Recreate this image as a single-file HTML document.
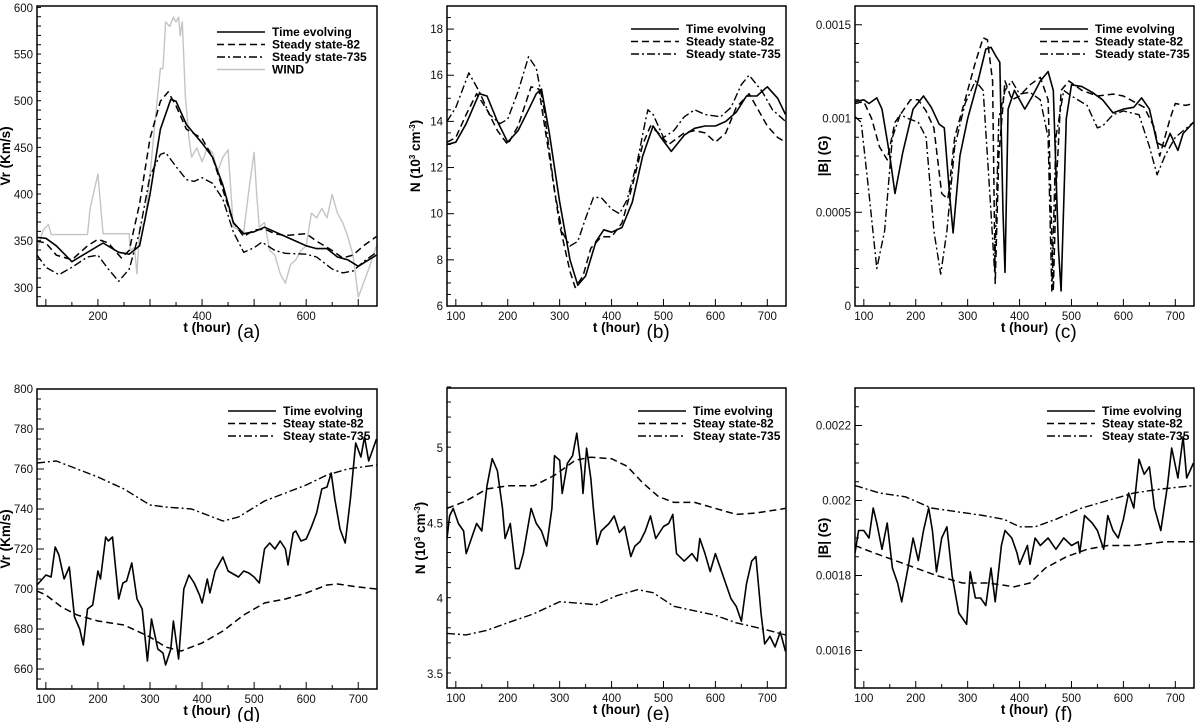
<!DOCTYPE html>
<html><head><meta charset="utf-8"><style>
body{margin:0;background:#fff;}
svg{display:block;font-family:"Liberation Sans",Arial,sans-serif;}
</style></head><body>
<svg id="fig" width="1200" height="722" viewBox="0 0 1200 722"></svg>
<script>
// ---- data (t in hours) ----
// Panel a: Vr
const aTimeT=[83,100,120,150,180,210,240,260,280,300,320,340,350,370,400,420,440,460,480,500,520,540,560,580,600,620,640,660,680,700,720,735];
const aTimeV=[354,353,345,328,338,348,338,336,345,400,470,502,500,475,455,440,410,370,358,360,365,360,355,350,345,342,342,333,330,323,330,335];
const a82T=[83,100,120,150,180,200,220,245,260,280,300,320,335,350,370,400,420,440,460,480,500,520,540,560,580,600,620,650,670,690,710,735];
const a82V=[350,348,335,330,345,352,348,332,340,390,460,500,510,495,470,460,440,405,370,355,362,363,358,356,357,358,350,340,332,335,345,355];
const a735T=[83,100,125,150,180,200,220,240,260,280,300,320,330,350,370,385,400,420,440,460,480,500,515,540,560,600,620,650,670,690,710,735];
const a735V=[335,322,314,322,333,335,320,307,320,360,420,443,445,430,416,414,418,412,395,360,338,343,349,340,337,336,333,320,316,318,328,338];
const aWindT=[83,95,105,110,130,180,185,200,205,210,260,262,270,275,280,290,300,310,320,325,330,338,345,350,355,358,362,368,375,380,390,400,410,420,430,440,450,460,480,490,500,505,510,520,530,540,550,560,570,580,590,600,610,620,630,640,650,660,670,680,690,700,710,720,735];
const aWindV=[340,362,368,357,357,357,385,422,390,358,358,340,343,315,365,370,420,480,535,535,585,580,590,585,590,570,585,505,460,440,450,435,450,445,425,440,448,365,360,405,445,400,365,370,340,335,315,305,325,330,340,345,380,375,385,375,400,380,370,355,335,290,305,320,345];
// Panel b: N
const bTimeT=[83,100,120,145,160,180,200,220,240,255,265,280,300,320,335,350,370,385,400,420,440,460,480,495,515,540,560,580,600,620,640,660,680,700,720,735];
const bTimeV=[13.0,13.1,13.9,15.2,15.1,14.0,13.1,13.6,14.5,15.2,15.4,13.5,10.5,8.0,6.9,7.3,8.8,9.3,9.2,9.4,10.5,12.5,13.8,13.3,12.7,13.4,13.7,13.8,13.8,14.0,14.4,15.1,15.1,15.5,15.0,14.3];
const b82T=[83,100,120,140,160,180,200,220,245,260,280,300,320,330,345,360,380,400,420,440,460,475,490,510,540,560,580,600,620,640,665,680,700,720,735];
const b82V=[13.1,13.3,14.3,15.2,14.5,13.6,13.0,13.8,15.5,15.4,12.5,9.5,7.5,6.8,7.3,8.5,9.0,9.0,9.6,11.2,13.0,13.8,13.5,13.0,13.5,13.6,13.5,13.1,13.5,14.6,15.2,14.6,13.8,13.3,13.1];
const b735T=[83,100,125,145,165,185,200,220,240,255,270,290,305,320,335,350,365,380,400,415,430,450,465,470,480,500,520,540,560,580,610,630,650,665,690,710,735];
const b735V=[14.0,14.6,16.1,15.3,14.3,13.9,14.1,15.3,16.8,16.3,14.5,11.0,9.2,8.6,8.8,9.8,10.7,10.7,10.2,10.0,10.6,12.3,14.0,14.5,14.3,13.3,13.6,14.2,14.5,14.3,14.2,14.6,15.6,16.0,15.3,14.5,14.0];
// Panel c: |B|
const cTimeT=[83,100,110,125,135,150,160,175,195,215,230,245,255,265,272,285,300,320,335,345,355,362,368,372,378,390,400,410,425,440,455,465,475,480,490,500,520,540,560,580,600,620,635,650,665,680,690,705,715,735];
const cTimeV=[0.00109,0.00110,0.00108,0.00111,0.00105,0.00080,0.00060,0.00082,0.00105,0.00112,0.00106,0.00097,0.00095,0.00060,0.00039,0.00080,0.00100,0.00120,0.00137,0.00138,0.00133,0.00130,0.00050,0.00018,0.00105,0.00115,0.00110,0.00105,0.00112,0.00120,0.00125,0.00115,0.00030,0.00008,0.00100,0.00118,0.00117,0.00114,0.00110,0.00103,0.00105,0.00106,0.00111,0.00105,0.00087,0.00085,0.00092,0.00083,0.00092,0.00098];
const c82T=[83,100,115,130,145,160,175,190,205,220,235,250,262,275,295,315,330,338,348,353,360,372,385,400,420,440,455,465,470,480,495,520,550,580,600,640,660,670,690,700,720,735];
const c82V=[0.00108,0.00109,0.00100,0.00085,0.00078,0.00098,0.00104,0.00110,0.00110,0.00104,0.00095,0.00060,0.00057,0.00090,0.00110,0.00130,0.00143,0.00142,0.00120,0.00012,0.00080,0.00120,0.00110,0.00112,0.00118,0.00122,0.00110,0.00008,0.00060,0.00115,0.00120,0.00115,0.00112,0.00113,0.00112,0.00106,0.00095,0.00080,0.00100,0.00108,0.00107,0.00108];
const c735T=[83,95,110,125,140,155,170,185,205,220,235,248,260,275,295,315,330,345,352,360,372,385,400,420,440,455,462,470,485,500,530,550,560,580,600,630,650,665,680,700,735];
const c735V=[0.00101,0.00098,0.00060,0.00020,0.00040,0.00090,0.00102,0.00100,0.00098,0.00090,0.00040,0.00017,0.00040,0.00085,0.00108,0.00120,0.00115,0.00050,0.00018,0.00100,0.00115,0.00120,0.00113,0.00114,0.00110,0.00090,0.00008,0.00090,0.00115,0.00112,0.00107,0.00095,0.00096,0.00102,0.00104,0.00102,0.00085,0.00070,0.00080,0.00090,0.00098];
// Panel d: Vr
const dTimeT=[83,90,100,110,118,125,135,145,155,165,172,180,190,200,205,215,220,228,240,248,255,265,275,285,295,303,315,325,330,340,345,355,365,375,385,395,400,410,415,425,440,450,470,480,490,500,510,520,530,540,550,560,565,575,580,590,600,610,620,630,640,648,655,665,675,685,695,705,712,720,735];
const dTimeV=[702,704,707,706,721,717,705,711,686,680,672,690,692,709,705,726,724,726,695,703,704,713,695,690,664,685,670,668,662,670,684,665,700,707,703,697,693,705,698,709,716,709,706,709,708,706,703,720,723,720,724,720,712,728,729,724,725,731,738,750,751,758,745,730,723,745,773,766,776,764,775];
const d82T=[83,100,130,160,200,250,300,330,360,400,440,480,520,560,600,640,660,700,735];
const d82V=[699,697,691,687,684,682,676,671,669,673,679,687,693,695,698,702,702.5,701,700];
const d735T=[83,120,160,200,250,300,330,380,410,440,470,520,560,600,640,680,735];
const d735V=[763,764,760,756,750,742,741,740,737,734,736,744,748,752,757,760,762];
// Panel e: N
const eTimeT=[83,88,95,105,115,120,130,140,150,160,170,180,190,195,205,215,222,230,245,255,265,275,285,290,300,305,315,325,333,342,345,352,360,365,372,380,395,405,415,425,437,445,455,465,475,485,500,510,518,525,540,555,565,570,580,590,600,610,620,630,640,650,660,670,678,688,695,705,715,725,735];
const eTimeV=[4.4,4.55,4.6,4.5,4.45,4.3,4.4,4.5,4.45,4.75,4.93,4.85,4.6,4.4,4.5,4.2,4.2,4.3,4.6,4.5,4.45,4.35,4.6,4.95,4.92,4.7,4.9,4.95,5.1,4.85,4.7,5.0,4.8,4.6,4.36,4.45,4.5,4.55,4.44,4.48,4.28,4.35,4.38,4.45,4.55,4.4,4.48,4.5,4.56,4.3,4.25,4.3,4.25,4.4,4.3,4.18,4.3,4.2,4.1,4.0,3.95,3.85,4.1,4.25,4.28,3.9,3.7,3.75,3.68,3.78,3.65];
const e82T=[83,120,160,200,250,290,330,360,400,430,460,490,520,560,600,640,680,735];
const e82V=[4.6,4.65,4.73,4.75,4.75,4.82,4.92,4.94,4.93,4.88,4.77,4.68,4.64,4.64,4.6,4.56,4.57,4.6];
const e735T=[83,120,160,200,250,300,340,370,410,450,480,520,560,600,640,690,735];
const e735V=[3.77,3.76,3.79,3.84,3.9,3.98,3.97,3.96,4.02,4.06,4.04,3.95,3.92,3.89,3.84,3.8,3.76];
// Panel f: |B|
const fTimeT=[83,90,100,110,118,125,135,145,155,165,173,185,195,205,215,225,232,240,250,260,270,283,293,298,305,315,325,335,345,353,365,372,385,395,400,415,420,430,440,455,470,485,500,513,516,525,540,550,562,570,580,590,600,610,620,630,640,650,660,672,685,693,705,715,722,735];
const fTimeV=[0.00186,0.00192,0.00192,0.00190,0.00198,0.00194,0.00187,0.00194,0.00182,0.00178,0.00173,0.00182,0.00190,0.00184,0.00192,0.00198,0.00192,0.00181,0.00190,0.00193,0.00180,0.00170,0.00168,0.00167,0.00181,0.00174,0.00174,0.00172,0.00182,0.00173,0.00188,0.00192,0.00190,0.00186,0.00183,0.00188,0.00183,0.00190,0.00188,0.00190,0.00187,0.00190,0.00188,0.00189,0.00186,0.00196,0.00194,0.00192,0.00187,0.00196,0.00192,0.00190,0.00195,0.00202,0.00198,0.00211,0.00207,0.00209,0.00198,0.00192,0.00204,0.00214,0.00206,0.00217,0.00206,0.00210];
const f82T=[83,120,160,200,240,290,340,390,420,450,490,530,570,620,680,735];
const f82V=[0.00188,0.00186,0.00184,0.00182,0.00180,0.00178,0.00178,0.00177,0.00178,0.00182,0.00185,0.00187,0.00188,0.00188,0.00189,0.00189];
const f735T=[83,130,180,230,280,330,370,400,430,470,520,570,620,670,735];
const f735V=[0.00204,0.00202,0.00201,0.00198,0.00197,0.00196,0.00195,0.00193,0.00193,0.00195,0.00198,0.00200,0.00202,0.00203,0.00204];
// ticks
const xTicksA=[200,400,600];
const xTicksFull=[100,200,300,400,500,600,700];
const yTicksA=[300,350,400,450,500,550,600];
const yTicksB=[6,8,10,12,14,16,18];
const yTicksC=[0,0.0005,0.001,0.0015];
const yTicksD=[660,680,700,720,740,760,780,800];
const yTicksE=[3.5,4,4.5,5];
const yTicksF=[0.0016,0.0018,0.002,0.0022];
const legendA=["Time evolving","Steady state-82","Steady state-735","WIND"];
const legendB=["Time evolving","Steady state-82","Steady state-735"];
const legendD=["Time evolving","Steay state-82","Steay state-735"];

const NS="http://www.w3.org/2000/svg";
const svg=document.getElementById('fig');
function mk(tag,attrs,parent){const e=document.createElementNS(NS,tag);for(const k in attrs)e.setAttribute(k,attrs[k]);(parent||svg).appendChild(e);return e;}
const STY={solid:{dash:null,col:"#000",w:1.6},d82:{dash:"7,4",col:"#000",w:1.5},d735:{dash:"8,3,2,3",col:"#000",w:1.4},wind:{dash:null,col:"#c4c4c4",w:1.4}};

function panel(o){
  const g=mk('g',{});
  
  
  const X0=83,X1=736;
  const sx=t=>o.L+(t-X0)/(X1-X0)*(o.R-o.L);
  const sy=v=>o.B-(v-o.ymin)/(o.ymax-o.ymin)*(o.B-o.T);
  const clip='clip'+o.id;
  const cp=mk('clipPath',{id:clip},g);mk('rect',{x:o.L,y:o.T,width:o.R-o.L,height:o.B-o.T},cp);
  // series (grey observation drawn first, behind)
  const order=o.series.filter(s=>s.style==='wind').concat(o.series.filter(s=>s.style!=='wind').reverse());
  order.forEach(s=>{
    const st=STY[s.style];
    const p=mk('polyline',{points:s.t.map((t,i)=>sx(t).toFixed(1)+','+sy(s.v[i]).toFixed(1)).join(' '),fill:'none',stroke:st.col,'stroke-width':st.w,'stroke-linejoin':'round','clip-path':'url(#'+clip+')'},g);
    if(st.dash)p.setAttribute('stroke-dasharray',st.dash);
    
    
  });
  const fr=mk('rect',{x:o.L,y:o.T,width:o.R-o.L,height:o.B-o.T,fill:'none',stroke:'#000','stroke-width':1.5},g);
  
  
  for(let t=100;t<=735;t+=50){const maj=t%100===0;mk('line',{x1:sx(t),x2:sx(t),y1:o.B,y2:o.B-(maj?7:4),stroke:'#000','stroke-width':1},g);}
  o.xticks.forEach(t=>{const tx=mk('text',{x:sx(t),y:o.B+14,'text-anchor':'middle','font-size':11.5,fill:'#111'},g);tx.textContent=t;
    
    });
  const nm=Math.round((o.ymax-o.ymin)/o.minor);
  for(let i=0;i<=nm;i++){const v=o.ymin+i*o.minor;const r=(v-o.yt[0])/(o.yt[1]-o.yt[0]);const maj=Math.abs(r-Math.round(r))<1e-6;
    mk('line',{x1:o.L,x2:o.L+(maj?7:4),y1:sy(v),y2:sy(v),stroke:'#000','stroke-width':1},g);}
  o.yt.forEach(v=>{const tx=mk('text',{x:o.L-4,y:sy(v)+4,'text-anchor':'end','font-size':11.5,fill:'#111'},g);tx.textContent=v;
    
    });
  const cx=(o.L+o.R)/2;
  const xt=mk('text',{x:cx,y:o.B+26,'text-anchor':'middle','font-size':13.5,'font-weight':'bold'},g);xt.textContent='t (hour)';
  
  
  const pl=mk('text',{x:cx+30,y:o.B+32,'font-size':19},g);pl.textContent='('+o.id+')';
  
  
  const yc=(o.T+o.B)/2;
  const yt=mk('text',{x:0,y:0,'text-anchor':'middle','font-size':13.5,'font-weight':'bold',transform:'translate('+(o.L-o.ytOff)+','+yc+') rotate(-90)'},g);
  yt.innerHTML=o.ytitle;
  
  
  o.legend.forEach((lab,i)=>{const y=o.lgY+i*12.5;const st=STY[o.series[i].style];
    const ln=mk('line',{x1:o.lgX,x2:o.lgX+48,y1:y,y2:y,stroke:st.col,'stroke-width':st.w},g);if(st.dash)ln.setAttribute('stroke-dasharray',st.dash);
    
    
    const tx=mk('text',{x:o.lgX+55,y:y+4,'font-size':12,'font-weight':'bold'},g);tx.textContent=lab;
    
    });
}
const NT='N (10<tspan font-size="8" dy="-5">3</tspan><tspan dy="5"> cm</tspan><tspan font-size="8" dy="-5">-3</tspan><tspan dy="5">)</tspan>';
panel({id:'a',L:37,R:377,T:6,B:306,ymin:280.5,ymax:602,yt:yTicksA,minor:10,xticks:xTicksA,ytitle:'Vr (Km/s)',ytOff:27,lgX:217,lgY:32,legend:legendA,
  series:[{name:'time-evolving',t:aTimeT,v:aTimeV,style:'solid'},{name:'steady-82',t:a82T,v:a82V,style:'d82'},{name:'steady-735',t:a735T,v:a735V,style:'d735'},{name:'wind',t:aWindT,v:aWindV,style:'wind'}]});
panel({id:'b',L:447,R:786,T:6,B:306,ymin:6,ymax:19,yt:yTicksB,minor:0.5,xticks:xTicksFull,ytitle:NT,ytOff:27,lgX:631,lgY:29,legend:legendB,
  series:[{name:'time-evolving',t:bTimeT,v:bTimeV,style:'solid'},{name:'steady-82',t:b82T,v:b82V,style:'d82'},{name:'steady-735',t:b735T,v:b735V,style:'d735'}]});
panel({id:'c',L:855,R:1194,T:6,B:306,ymin:0,ymax:0.0016,yt:yTicksC,minor:0.0001,xticks:xTicksFull,ytitle:'|B| (G)',ytOff:27,lgX:1040,lgY:29,legend:legendB,
  series:[{name:'time-evolving',t:cTimeT,v:cTimeV,style:'solid'},{name:'steady-82',t:c82T,v:c82V,style:'d82'},{name:'steady-735',t:c735T,v:c735V,style:'d735'}]});
panel({id:'d',L:37,R:377,T:389,B:689,ymin:650,ymax:800,yt:yTicksD,minor:5,xticks:xTicksFull,ytitle:'Vr (Km/s)',ytOff:27,lgX:228,lgY:411,legend:legendD,
  series:[{name:'time-evolving',t:dTimeT,v:dTimeV,style:'solid'},{name:'steady-82',t:d82T,v:d82V,style:'d82'},{name:'steady-735',t:d735T,v:d735V,style:'d735'}]});
panel({id:'e',L:447,R:786,T:388,B:688,ymin:3.407,ymax:5.4,yt:yTicksE,minor:0.1,xticks:xTicksFull,ytitle:NT,ytOff:22,lgX:638,lgY:411,legend:legendD,
  series:[{name:'time-evolving',t:eTimeT,v:eTimeV,style:'solid'},{name:'steady-82',t:e82T,v:e82V,style:'d82'},{name:'steady-735',t:e735T,v:e735V,style:'d735'}]});
panel({id:'f',L:855,R:1194,T:388,B:688,ymin:0.0015,ymax:0.0023,yt:yTicksF,minor:0.00005,xticks:xTicksFull,ytitle:'|B| (G)',ytOff:27,lgX:1047,lgY:411,legend:legendD,
  series:[{name:'time-evolving',t:fTimeT,v:fTimeV,style:'solid'},{name:'steady-82',t:f82T,v:f82V,style:'d82'},{name:'steady-735',t:f735T,v:f735V,style:'d735'}]});
</script>
</body></html>
